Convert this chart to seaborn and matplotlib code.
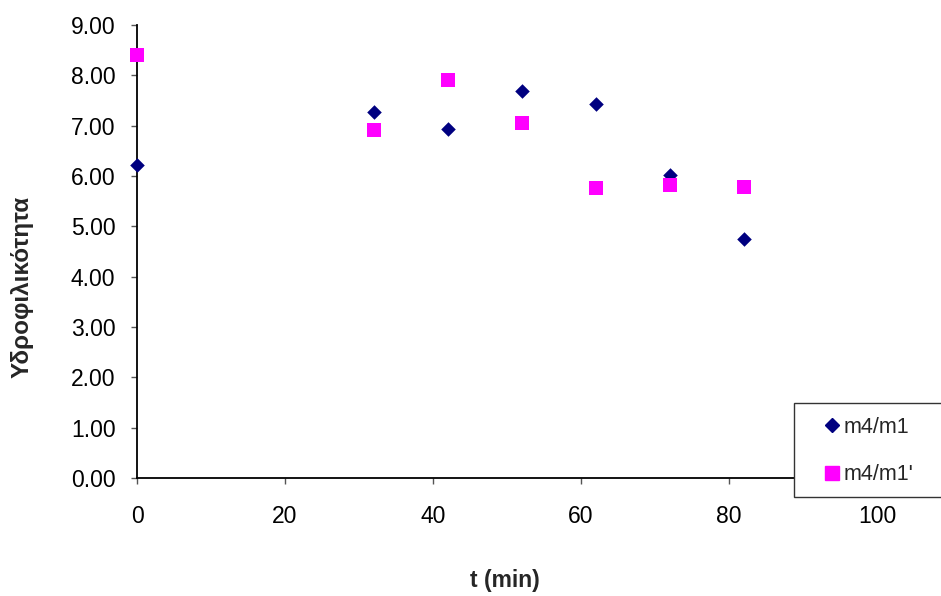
import matplotlib
matplotlib.use("Agg")
import matplotlib.pyplot as plt
import seaborn as sns
import pandas as pd
from matplotlib.ticker import FormatStrFormatter, MultipleLocator
from matplotlib.lines import Line2D
from matplotlib.patches import Rectangle

t_min = [0, 32, 42, 52, 62, 72, 82]
m4_m1 = [6.22, 7.27, 6.93, 7.69, 7.43, 6.02, 4.75]
m4_m1p = [8.40, 6.91, 7.91, 7.05, 5.76, 5.82, 5.78]
series_names = ["m4/m1", "m4/m1'"]

df1 = pd.DataFrame({"t": t_min, "val": m4_m1})
df2 = pd.DataFrame({"t": t_min, "val": m4_m1p})

sns.set_style("white")
plt.rcParams["font.family"] = ["Liberation Sans", "DejaVu Sans"]

W, H = 941, 596
fig = plt.figure(figsize=(W / 100, H / 100), dpi=100)
ax = fig.add_axes([137 / W, 1 - 478 / H, (877 - 137) / W, (478 - 25) / H])

sns.scatterplot(data=df1, x="t", y="val", color="#000080", marker="D", s=55,
                linewidth=0, ax=ax, legend=False, clip_on=False, zorder=3)
sns.scatterplot(data=df2, x="t", y="val", color="#FF00FF", marker="s", s=95,
                linewidth=0, ax=ax, legend=False, clip_on=False, zorder=3)

ax.set_xlim(0, 100)
ax.set_ylim(0, 9)
ax.xaxis.set_major_locator(MultipleLocator(20))
ax.yaxis.set_major_locator(MultipleLocator(1))
ax.yaxis.set_major_formatter(FormatStrFormatter("%.2f"))
for s in ["top", "right"]:
    ax.spines[s].set_visible(False)
for s in ["left", "bottom"]:
    ax.spines[s].set_color("black")
    ax.spines[s].set_linewidth(1.3)
ax.tick_params(axis="both", direction="out", length=4.5, width=1, color="#555555",
               labelsize=16.5, labelcolor="black", left=True, bottom=True)
ax.tick_params(axis="x", pad=15)
ax.tick_params(axis="y", pad=11)

ax.set_xlabel("t (min)", fontsize=16.5, fontweight="bold")
ax.xaxis.set_label_coords(0.497, (478 - 569) / 453, transform=ax.transAxes)
ax.set_ylabel("Υδροφιλικότητα", fontsize=17.5, fontweight="bold")
ax.yaxis.set_label_coords((34 - 137) / 740, (478 - 287) / 453, transform=ax.transAxes)

# legend frame
fig.patches.append(Rectangle((794 / W, 1 - 497 / H), (950 - 794) / W, (497 - 403) / H,
                             transform=fig.transFigure, facecolor="white",
                             edgecolor="#333333", linewidth=1.0, zorder=5))
handles = [
    Line2D([], [], marker="D", color="#000080", linestyle="none", markersize=7),
    Line2D([], [], marker="s", color="#FF00FF", linestyle="none", markersize=9.5),
]
leg = fig.legend(handles, series_names, loc="center left",
                 bbox_to_anchor=(822 / W, 1 - 451 / H),
                 fontsize=15.5, frameon=False, labelspacing=1.25,
                 handlelength=0.9, handletextpad=0.1, borderpad=0, borderaxespad=0)
leg.set_zorder(6)

fig.savefig("out.png", dpi=100)
